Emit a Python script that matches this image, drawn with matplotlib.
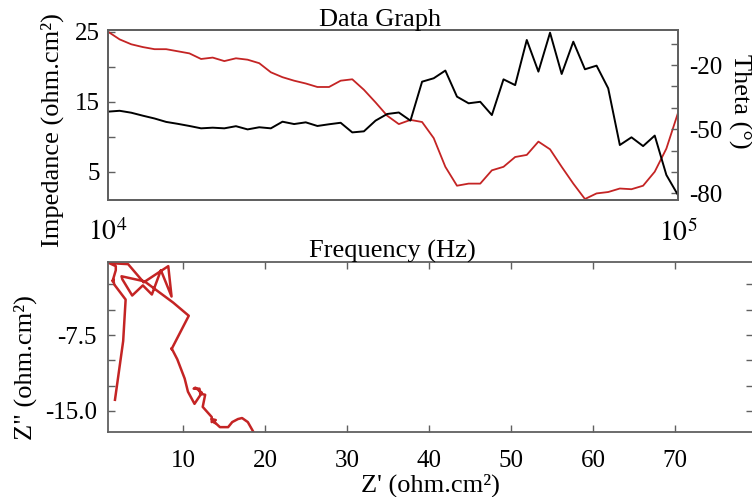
import matplotlib
matplotlib.use('Agg')
import matplotlib.pyplot as plt
from matplotlib.ticker import NullLocator, FixedLocator

plt.rcParams['font.family'] = ['Liberation Serif', 'DejaVu Serif']
plt.rcParams['mathtext.fontset'] = 'stix'

# ---------------- data ----------------
freq_hz = [10000, 10481, 10985, 11514, 12068, 12649, 13257, 13895, 14564, 15264,
           15999, 16768, 17575, 18421, 19307, 20236, 21210, 22230, 23300, 24421,
           25595, 26827, 28118, 29471, 30888, 32375, 33932, 35565, 37276, 39069,
           40949, 42919, 44984, 47149, 49417, 51795, 54287, 56899, 59636, 62506,
           65513, 68665, 71969, 75431, 79060, 82864, 86851, 91030, 95410, 100000]

impedance = [25.0, 23.9, 23.2, 22.8, 22.5, 22.5, 22.2, 21.9, 21.1, 21.3,
             20.8, 21.2, 21.0, 20.5, 19.2, 18.5, 18.0, 17.6, 17.1, 17.1,
             18.0, 18.2, 16.7, 14.9, 13.0, 11.8, 12.4, 12.1, 9.8, 5.7,
             3.0, 3.3, 3.3, 5.2, 5.7, 7.1, 7.4, 9.3, 8.2, 5.7,
             3.3, 1.1, 1.9, 2.1, 2.6, 2.5, 3.0, 5.0, 8.3, 13.4]

theta = [-41.8, -41.4, -42.3, -43.7, -45.0, -46.6, -47.5, -48.5, -49.6, -49.3,
         -49.6, -48.6, -50.1, -49.1, -49.6, -46.5, -47.6, -46.8, -48.5, -47.7,
         -47.0, -51.5, -51.0, -46.0, -42.9, -42.2, -46.0, -27.8, -26.2, -22.6,
         -34.8, -37.9, -37.2, -43.4, -26.7, -29.4, -8.3, -23.1, -4.9, -24.2,
         -9.1, -22.0, -20.3, -30.9, -57.4, -53.8, -57.9, -53.0, -71.4, -80.8]

z_real = [18.6, 17.9, 17.2, 16.7, 16.0, 15.5, 15.0, 14.5, 13.7, 13.9,
          13.5, 14.0, 13.5, 13.5, 12.4, 12.7, 12.1, 12.0, 11.3, 11.5,
          12.3, 11.4, 10.6, 10.2, 9.3, 8.6, 8.6, 10.7, 8.8, 5.3,
          2.5, 2.6, 2.6, 3.8, 5.1, 6.2, 7.3, 8.6, 8.2, 5.2,
          3.3, 1.0, 1.8, 1.8, 1.4, 1.5, 1.6, 3.0, 2.7, 1.7]

z_imag = [-17.1, -16.1, -15.7, -15.8, -16.1, -16.6, -16.6, -16.6, -16.0, -16.2,
          -15.8, -15.9, -16.1, -15.6, -14.6, -13.4, -13.3, -12.8, -12.8, -12.7,
          -13.2, -14.3, -13.1, -11.8, -9.9, -8.8, -8.9, -5.6, -4.3, -2.2,
          -1.7, -2.0, -2.0, -3.6, -2.6, -3.5, -1.1, -3.7, -0.7, -2.3,
          -0.5, -0.4, -0.7, -1.1, -2.2, -2.0, -2.5, -4.0, -8.1, -13.9]

imp_ticks = [5, 10, 15, 20, 25]
imp_labels = ['5', '', '15', '', '25']
theta_ticks = [-80, -70, -60, -50, -40, -30, -20, -10]
theta_labels = ['-80', '', '', '-50', '', '', '-20', '']
freq_ticks = [1e4, 1e5]
freq_labels = [r'$10^{4}$', r'$10^{5}$']
zr_ticks = [10, 20, 30, 40, 50, 60, 70]
zi_major = [-15.0, -7.5]
zi_major_labels = ['-15.0', '-7.5']
zi_minor = [-12.5, -10.0, -5.0, -2.5]

RED = '#c42424'
SPINE = '#606060'
W, H = 752, 497
TICK_FS = 18
LABEL_FS = 19

fig = plt.figure(figsize=(W / 100, H / 100), dpi=100)

# ---------------- top: Bode ----------------
ax1 = fig.add_axes([108 / W, 1 - 200 / H, 570 / W, 170 / H])
ax1.plot(freq_hz, impedance, color=RED, lw=1.3)
ax1.set_xscale('log')
ax1.set_xlim(1e4, 1e5)
ax1.set_ylim(0.96, 25.24)
ax1.set_yticks(imp_ticks)
ax1.set_yticklabels(imp_labels)
ax1.set_xticks(freq_ticks)
ax1.set_xticklabels(freq_labels)
ax1.xaxis.set_minor_locator(NullLocator())
ax1.tick_params(axis='x', length=0, pad=14, labelsize=TICK_FS + 2)
ax1.tick_params(axis='y', direction='in', length=5, width=1, pad=6,
                labelsize=TICK_FS, color=SPINE)
ax1.set_ylabel('Impedance (ohm.cm²)', fontsize=LABEL_FS, va='center')
ax1.yaxis.set_label_coords((52 - 108) / 570, (200 - 130) / 170)

ax2 = ax1.twinx()
ax2.plot(freq_hz, theta, color='black', lw=1.4)
ax2.set_ylim(-83.1, -3.64)
ax2.set_yticks(theta_ticks)
ax2.set_yticklabels(theta_labels)
ax2.tick_params(axis='y', direction='in', length=5, width=1, pad=8,
                labelsize=TICK_FS, color=SPINE)
ax2.set_ylabel('Theta (°)', fontsize=LABEL_FS, rotation=-90, va='center')
ax2.yaxis.set_label_coords((740 - 108) / 570, (200 - 101) / 170)

for a in (ax1, ax2):
    for s in a.spines.values():
        s.set_color(SPINE)
        s.set_linewidth(1.3)

fig.text(380 / W, 1 - 26 / H, 'Data Graph', ha='center', va='baseline',
         fontsize=LABEL_FS)

# ---------------- bottom: Nyquist ----------------
ax3 = fig.add_axes([108 / W, 1 - 432 / H, 645 / W, 170 / H])
ax3.plot(z_real, z_imag, color=RED, lw=1.8)
ax3.set_xlim(0.85, 0.85 + 645 / 8.2)
ax3.set_ylim(-17.08, -0.29)
ax3.set_xticks(zr_ticks)
ax3.yaxis.set_major_locator(FixedLocator(zi_major))
ax3.set_yticklabels(zi_major_labels)
ax3.yaxis.set_minor_locator(FixedLocator(zi_minor))
ax3.tick_params(axis='both', which='both', direction='in', length=5, width=1,
                top=True, right=True, color=SPINE, labelsize=TICK_FS)
ax3.tick_params(axis='x', pad=13)
ax3.tick_params(axis='y', pad=8)
for s in ax3.spines.values():
    s.set_color(SPINE)
    s.set_linewidth(1.3)
ax3.set_xlabel("Z' (ohm.cm²)", fontsize=LABEL_FS, va='center')
ax3.xaxis.set_label_coords((430 - 108) / 645, -(485 - 432) / 170)
ax3.set_ylabel('Z" (ohm.cm²)', fontsize=LABEL_FS, va='center')
ax3.yaxis.set_label_coords((25 - 108) / 645, (432 - 368) / 170)

fig.text(392 / W, 1 - 251 / H, 'Frequency (Hz)', ha='center', va='center',
         fontsize=LABEL_FS, zorder=10)

fig.savefig('out.png', dpi=100)
